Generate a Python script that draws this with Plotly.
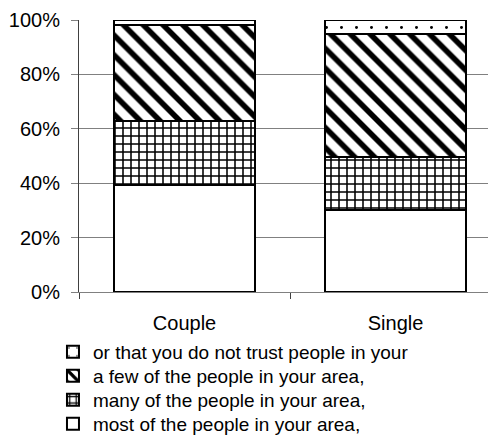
import plotly.graph_objects as go

categories = ["Couple", "Single"]
most_people = [39.4, 30.1]
many_people = [23.3, 19.7]
few_people = [35.3, 44.9]
not_trust = [2.0, 5.3]

names = [
    "most of the people in your area,",
    "many of the people in your area,",
    "a few of the people in your area,",
    "or that you do not trust people in your",
]
series = [most_people, many_people, few_people, not_trust]
patterns = [
    dict(shape="", fillmode="overlay", fgcolor="black", bgcolor="white"),
    dict(shape="+", size=8, solidity=0.35, fgcolor="black", fgopacity=1, bgcolor="white", fillmode="overlay"),
    dict(shape="\\", size=14, solidity=0.4, fgcolor="black", fgopacity=1, bgcolor="white", fillmode="overlay"),
    dict(shape=".", size=15, solidity=0.03, fgcolor="black", fgopacity=1, bgcolor="white", fillmode="overlay"),
]
legend_ids = ["legend4", "legend3", "legend2", "legend"]
legend_rows_y = [-0.4853, -0.397, -0.3088, -0.2206]

font = dict(family="Liberation Sans, Arial, sans-serif", size=20, color="black")
legfont = dict(family="Liberation Sans, Arial, sans-serif", size=19, color="black")

fig = go.Figure()
for name, vals, pat, lid in zip(names, series, patterns, legend_ids):
    fig.add_trace(go.Bar(
        x=categories, y=vals, name=name, legend=lid,
        marker=dict(color="white", line=dict(color="black", width=2), pattern=pat),
    ))

layout_legends = {}
for lid, ly in zip(legend_ids, legend_rows_y):
    layout_legends[lid] = dict(
        x=-0.0624, xanchor="left", y=ly, yanchor="middle",
        font=legfont, itemwidth=30, bgcolor="rgba(0,0,0,0)",
    )

fig.update_layout(
    barmode="stack",
    bargap=0.332,
    width=488, height=428,
    margin=dict(l=71, r=0, t=12, b=144, autoexpand=False),
    plot_bgcolor="white", paper_bgcolor="white",
    font=font,
    showlegend=True,
    xaxis=dict(
        range=[-0.5, 1.476], showgrid=False,
        showline=True, linecolor="#808080", linewidth=1,
        ticks="outside", tickson="boundaries", ticklen=6, tickcolor="#404040",
        tickfont=font, ticklabelstandoff=13,
    ),
    yaxis=dict(
        range=[0, 100], tickvals=[0, 20, 40, 60, 80, 100],
        ticktext=["0%", "20%", "40%", "60%", "80%", "100%"],
        showgrid=True, gridcolor="#808080", gridwidth=1,
        showline=True, linecolor="#404040", linewidth=1,
        ticks="outside", ticklen=7, tickcolor="#808080",
        tickfont=font, zeroline=False, ticklabelstandoff=7,
    ),
    **layout_legends,
)

fig.write_html("out.html")
